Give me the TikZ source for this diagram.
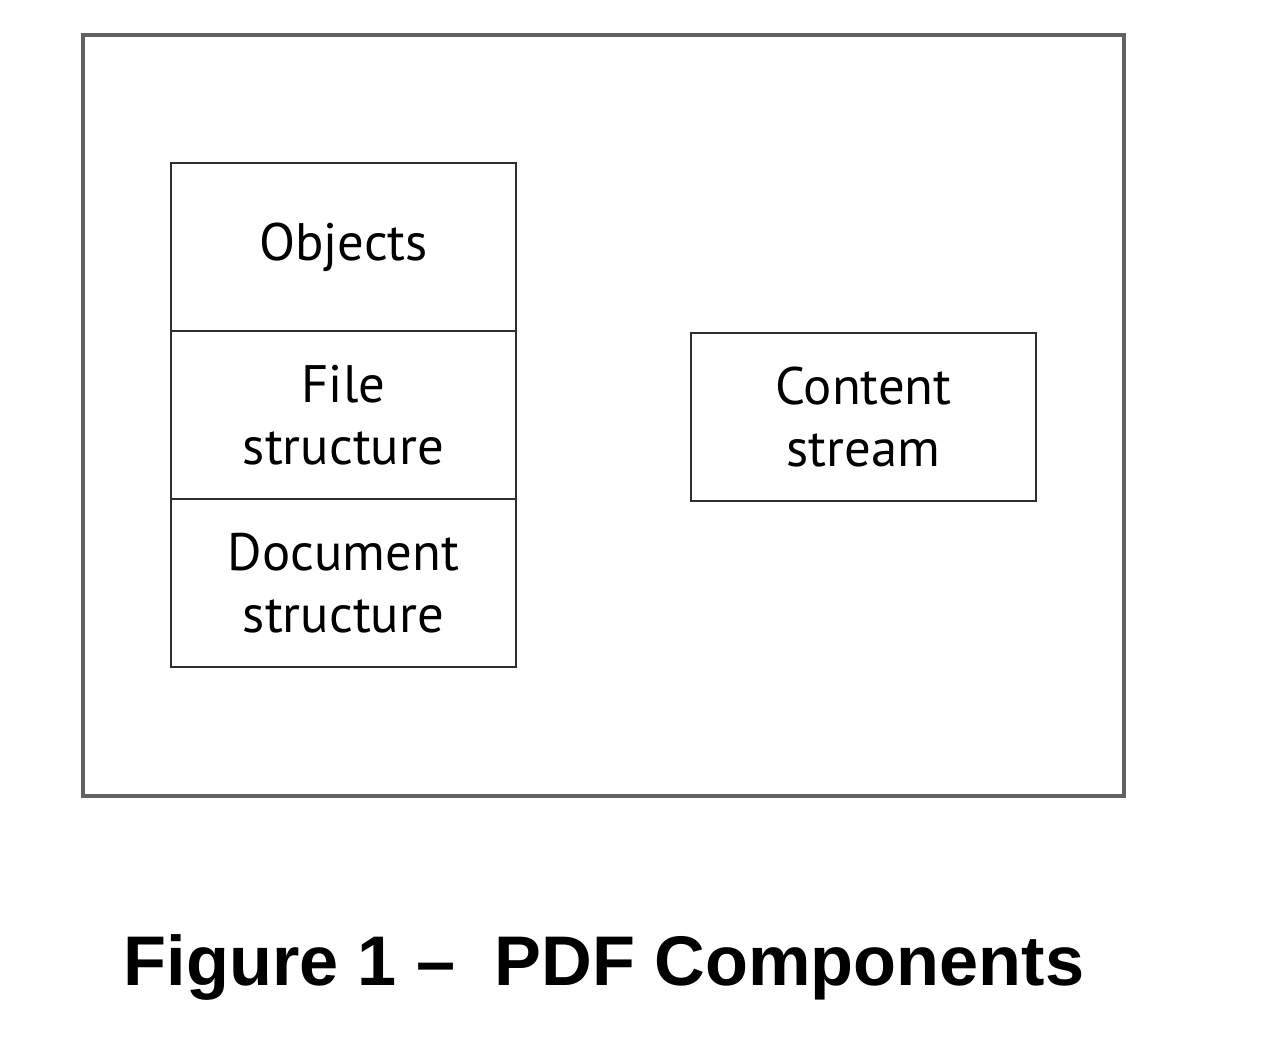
\documentclass[tikz,border=0pt]{standalone}
\usepackage{fontspec}
\setmainfont{PT Sans}
\newfontfamily\captionfont{Liberation Sans}
\usetikzlibrary{positioning}
\tikzset{
    framenode/.style = {draw=black!62, line width=3pt*0.75, rectangle, inner sep=0em},
    partnode/.style = {draw=black!82, line width=1.6pt, rectangle, inner sep=0em, outer sep=0pt,
      minimum width=6.9cm, minimum height=3.36cm, node distance=0em,
      font=\fontsize{30}{35}\selectfont},
    captionnode/.style = {draw=none, fill=none, inner sep=0em, anchor=base,
      font=\captionfont\bfseries\fontsize{40}{48}\selectfont},
    every text node part/.style={align=center}
}
\begin{document}
\begin{tikzpicture}[x=0.02cm, y=-0.02cm]
    \useasboundingbox (0,0) rectangle (1280,1054);
    \node [name=pdf, framenode, minimum width=20.82cm, minimum height=15.22cm] at (603.5,415.5) {};

    % left stack
    \node [name=objects, partnode] at (343.5,247) {Objects};
    \node [name=filestruct, partnode, below=of objects] {File\\structure};
    \node [name=docstruct, partnode, below=of filestruct] {Document\\structure};

    % right box
    \node [name=content, partnode] at (863.5,417) {Content\\stream};

    \node [name=caption, captionnode] at (604,985) {Figure 1 –\ \ PDF Components};
\end{tikzpicture}
\end{document}
